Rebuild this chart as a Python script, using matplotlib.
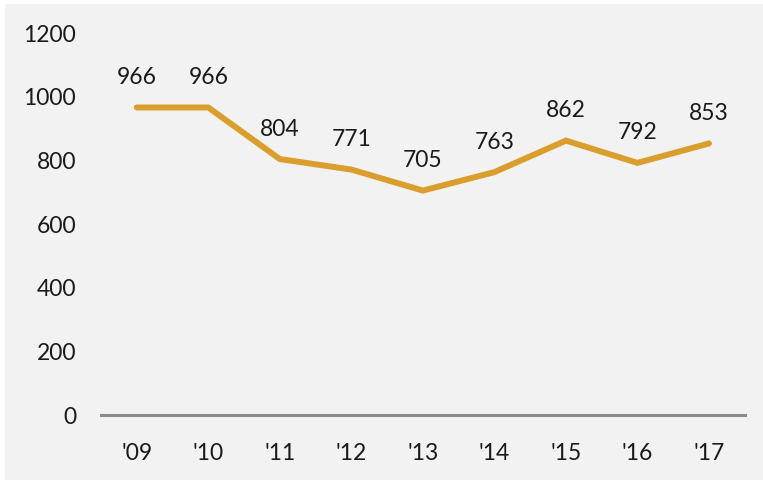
import matplotlib
matplotlib.use("Agg")
import matplotlib.pyplot as plt
from matplotlib.patches import Rectangle

years = ["'09", "'10", "'11", "'12", "'13", "'14", "'15", "'16", "'17"]
values = [966, 966, 804, 771, 705, 763, 862, 792, 853]

plt.rcParams['font.family'] = ['Lato', 'DejaVu Sans']

fig = plt.figure(figsize=(7.63, 4.80), dpi=100, facecolor='white')
# grey panel with thin white margin on the left and top
fig.patches.append(Rectangle((5/763, 0), 1, 1 - 4/480, transform=fig.transFigure,
                             facecolor='#f2f2f2', edgecolor='none', zorder=-10))

ax = fig.add_axes([101/763, 1 - 415/480, (744.75 - 101)/763, (415 - 33)/480])
ax.set_facecolor('none')

x = list(range(len(years)))
ax.plot(x, values, color='#DA9E2C', lw=4.3, solid_capstyle='round',
        solid_joinstyle='miter', zorder=3)

for xi, v in zip(x, values):
    ax.annotate(str(v), (xi, v), xytext=(0, 14), textcoords='offset points',
                ha='center', va='bottom', fontsize=16.5, color='#1a1a1a')

ax.set_xlim(-0.5, len(years) - 0.5)
ax.set_ylim(0, 1200)
ax.set_yticks(range(0, 1201, 200))
ax.set_xticks(x)
ax.set_xticklabels(years)

for s in ['top', 'right', 'left']:
    ax.spines[s].set_visible(False)
ax.spines['bottom'].set_color('#8c8c8c')
ax.spines['bottom'].set_linewidth(2.2)
ax.tick_params(axis='both', length=0, labelsize=16.5, labelcolor='#1a1a1a')
ax.tick_params(axis='y', pad=18)
ax.tick_params(axis='x', pad=20)

fig.savefig('out.png', dpi=100, facecolor=fig.get_facecolor())
